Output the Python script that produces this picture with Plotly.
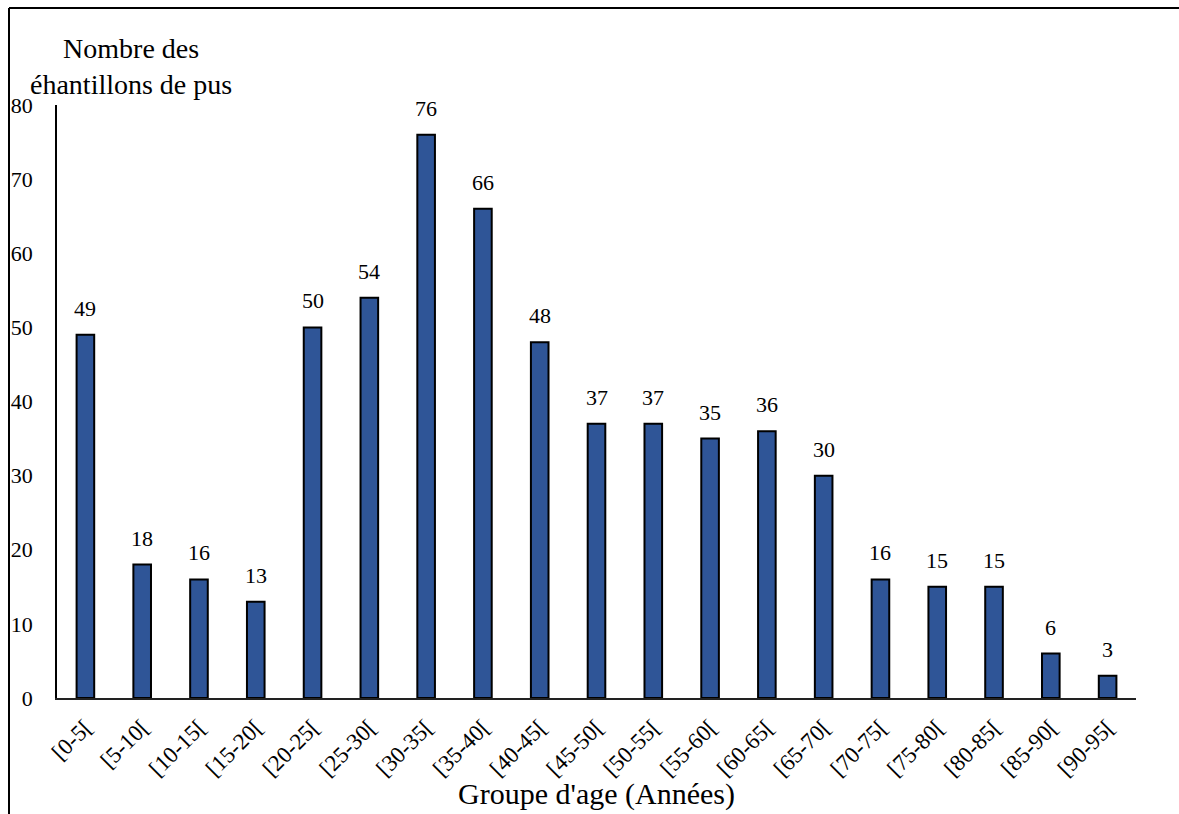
import plotly.graph_objects as go

# Age groups and number of pus samples per group
age_groups = ["[0-5[", "[5-10[", "[10-15[", "[15-20[", "[20-25[", "[25-30[",
              "[30-35[", "[35-40[", "[40-45[", "[45-50[", "[50-55[", "[55-60[",
              "[60-65[", "[65-70[", "[70-75[", "[75-80[", "[80-85[", "[85-90[",
              "[90-95["]
samples = [49, 18, 16, 13, 50, 54, 76, 66, 48, 37, 37, 35, 36, 30, 16, 15, 15, 6, 3]

y_ticks = [0, 10, 20, 30, 40, 50, 60, 70, 80]

FONT = "Liberation Serif, Tinos, DejaVu Serif, serif"
W, H = 1179, 814
ML, MR, MT, MB = 57, 43, 105, 116
PW, PH = W - ML - MR, H - MT - MB


def px_x(px):
    return (px - ML) / PW


def px_y(py):
    return (H - MB - py) / PH


fig = go.Figure()
fig.add_trace(go.Bar(
    x=age_groups,
    y=samples,
    marker=dict(color="#2F5597", line=dict(color="black", width=2)),
    showlegend=False,
    hoverinfo="x+y",
))

# value labels above each bar
annotations = []
for g, v in zip(age_groups, samples):
    annotations.append(dict(
        x=g, y=v, xref="x", yref="y", text=str(v), showarrow=False,
        yanchor="bottom", yshift=12,
        font=dict(family=FONT, size=22, color="black"),
    ))

# axis titles
annotations.append(dict(
    x=px_x(131), y=px_y(66), xref="paper", yref="paper",
    text="Nombre des<br>éhantillons de pus", showarrow=False,
    xanchor="center", yanchor="middle", align="center",
    font=dict(family=FONT, size=28, color="black"),
))
annotations.append(dict(
    x=0.5, y=px_y(794), xref="paper", yref="paper",
    text="Groupe d'age (Années)", showarrow=False,
    xanchor="center", yanchor="middle",
    font=dict(family=FONT, size=30, color="black"),
))

# frame lines along the top and left edges
shapes = [
    dict(type="line", xref="paper", yref="paper",
         x0=px_x(9), x1=px_x(W + 5), y0=px_y(8), y1=px_y(8),
         line=dict(color="black", width=2)),
    dict(type="line", xref="paper", yref="paper",
         x0=px_x(9), x1=px_x(9), y0=px_y(8), y1=px_y(H + 5),
         line=dict(color="black", width=2)),
]

fig.update_layout(
    width=W, height=H,
    margin=dict(l=ML, r=MR, t=MT, b=MB),
    paper_bgcolor="white", plot_bgcolor="white",
    bargap=0.69,
    annotations=annotations,
    shapes=shapes,
    font=dict(family=FONT, color="black"),
    xaxis=dict(
        tickangle=-45,
        tickfont=dict(family=FONT, size=23, color="black"),
        showline=True, linecolor="#222", linewidth=1.5,
        showgrid=False, zeroline=False, ticks="",
        ticklabelstandoff=5,
    ),
    yaxis=dict(
        range=[0, 80], tickvals=y_ticks,
        tickfont=dict(family=FONT, size=22, color="black"),
        showline=True, linecolor="black", linewidth=1.5,
        showgrid=False, zeroline=False, ticks="",
        ticklabelstandoff=18,
    ),
)

fig.write_html("out.html")
